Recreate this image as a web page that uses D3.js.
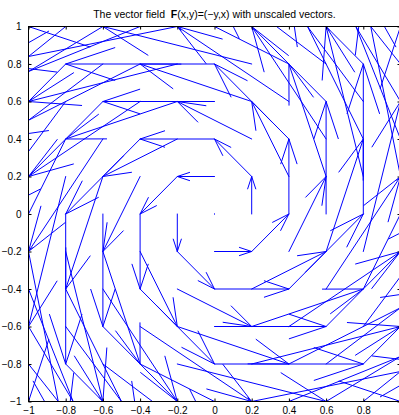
<!DOCTYPE html>
<html>
<head>
<meta charset="utf-8">
<script src="https://cdn.jsdelivr.net/npm/d3@7"></script>
<style>
  html, body { margin: 0; padding: 0; background: #fff; }
  svg { display: block; }
  text { font-family: "Liberation Sans", Arial, Helvetica, sans-serif; }
</style>
</head>
<body>
<div id="chart"></div>
<script>
// Sample grid for the quiver plot
const gridX = [-1, -0.8, -0.6, -0.4, -0.2, 0, 0.2, 0.4, 0.6, 0.8, 1];
const gridY = [-1, -0.8, -0.6, -0.4, -0.2, 0, 0.2, 0.4, 0.6, 0.8, 1];
// Field components F = (-y, x): u per row of gridY, v per column of gridX
const uByRow = [1, 0.8, 0.6, 0.4, 0.2, 0, -0.2, -0.4, -0.6, -0.8, -1];
const vByCol = [-1, -0.8, -0.6, -0.4, -0.2, 0, 0.2, 0.4, 0.6, 0.8, 1];
// Axis ticks (the x label at 1 falls past the page edge, so it is not printed)
const xTicks = [-1, -0.8, -0.6, -0.4, -0.2, 0, 0.2, 0.4, 0.6, 0.8, 1];
const xTickLabels = ["\u22121", "\u22120.8", "\u22120.6", "\u22120.4", "\u22120.2", "0", "0.2", "0.4", "0.6", "0.8", ""];
const yTicks = [-1, -0.8, -0.6, -0.4, -0.2, 0, 0.2, 0.4, 0.6, 0.8, 1];
const yTickLabels = ["\u22121", "\u22120.8", "\u22120.6", "\u22120.4", "\u22120.2", "0", "0.2", "0.4", "0.6", "0.8", "1"];

const W = 399, H = 415;
const plotLeft = 28.5, plotRight = 400.5, plotTop = 26.5, plotBottom = 401.5;

const svg = d3.select("#chart").append("svg")
  .attr("width", W).attr("height", H);

const x = d3.scaleLinear().domain([-1, 1]).range([plotLeft, plotRight]);
const y = d3.scaleLinear().domain([-1, 1]).range([plotBottom, plotTop]);

svg.append("defs").append("clipPath").attr("id", "plotClip")
  .append("rect")
  .attr("x", plotLeft).attr("y", plotTop)
  .attr("width", plotRight - plotLeft).attr("height", plotBottom - plotTop);

// Arrow head geometry (relative to vector length)
const alpha = 0.33, beta = 0.33, eps = 2.2e-16;

const arrows = [];
gridY.forEach((gy, i) => {
  gridX.forEach((gx, j) => {
    arrows.push({ x: gx, y: gy, u: uByRow[i], v: vByCol[j] });
  });
});

function arrowPath(a) {
  const tx = a.x + a.u, ty = a.y + a.v;
  const h1x = tx - alpha * (a.u + beta * (a.v + eps));
  const h1y = ty - alpha * (a.v - beta * (a.u + eps));
  const h2x = tx - alpha * (a.u - beta * (a.v + eps));
  const h2y = ty - alpha * (a.v + beta * (a.u + eps));
  const p = d3.path();
  p.moveTo(x(a.x), y(a.y));
  p.lineTo(x(tx), y(ty));
  p.moveTo(x(h1x), y(h1y));
  p.lineTo(x(tx), y(ty));
  p.lineTo(x(h2x), y(h2y));
  return p.toString();
}

svg.append("g").attr("clip-path", "url(#plotClip)")
  .selectAll("path").data(arrows).join("path")
  .attr("d", arrowPath)
  .attr("fill", "none")
  .attr("stroke", "#0000ff")
  .attr("stroke-width", 1)
  .attr("stroke-linecap", "round")
  .attr("stroke-linejoin", "miter");

function styleAxis(g) {
  g.select(".domain").remove();
  g.selectAll(".tick line").attr("stroke", "#000").attr("stroke-width", 1);
  g.selectAll(".tick text").attr("fill", "#000").attr("font-size", 10)
    .attr("font-family", "Liberation Sans, Arial, sans-serif");
}

// bottom and left axes with inward ticks
svg.append("g").attr("transform", `translate(0,${plotBottom})`)
  .call(d3.axisBottom(x).tickValues(xTicks)
    .tickFormat((d, i) => xTickLabels[i]).tickSize(-3).tickPadding(5))
  .call(styleAxis);
svg.append("g").attr("transform", `translate(${plotLeft},0)`)
  .call(d3.axisLeft(y).tickValues(yTicks)
    .tickFormat((d, i) => yTickLabels[i]).tickSize(-3).tickPadding(7))
  .call(styleAxis);
// top and right mirror ticks
svg.append("g").attr("transform", `translate(0,${plotTop})`)
  .call(d3.axisTop(x).tickValues(xTicks).tickFormat("").tickSize(-3))
  .call(styleAxis);
svg.append("g").attr("transform", `translate(${plotRight},0)`)
  .call(d3.axisRight(y).tickValues(yTicks).tickFormat("").tickSize(-3))
  .call(styleAxis);

// axes box
svg.append("rect")
  .attr("x", plotLeft).attr("y", plotTop)
  .attr("width", plotRight - plotLeft).attr("height", plotBottom - plotTop)
  .attr("fill", "none").attr("stroke", "#000").attr("stroke-width", 1);

// title
const title = svg.append("text")
  .attr("x", (plotLeft + plotRight) / 2).attr("y", 18)
  .attr("text-anchor", "middle")
  .attr("font-size", 10.5)
  .attr("fill", "#000")
  .style("white-space", "pre");
title.append("tspan").text("The vector field  ");
title.append("tspan").attr("font-weight", "bold").text("F");
title.append("tspan").text("(x,y)=(\u2212y,x) with unscaled vectors.");
</script>
</body>
</html>
